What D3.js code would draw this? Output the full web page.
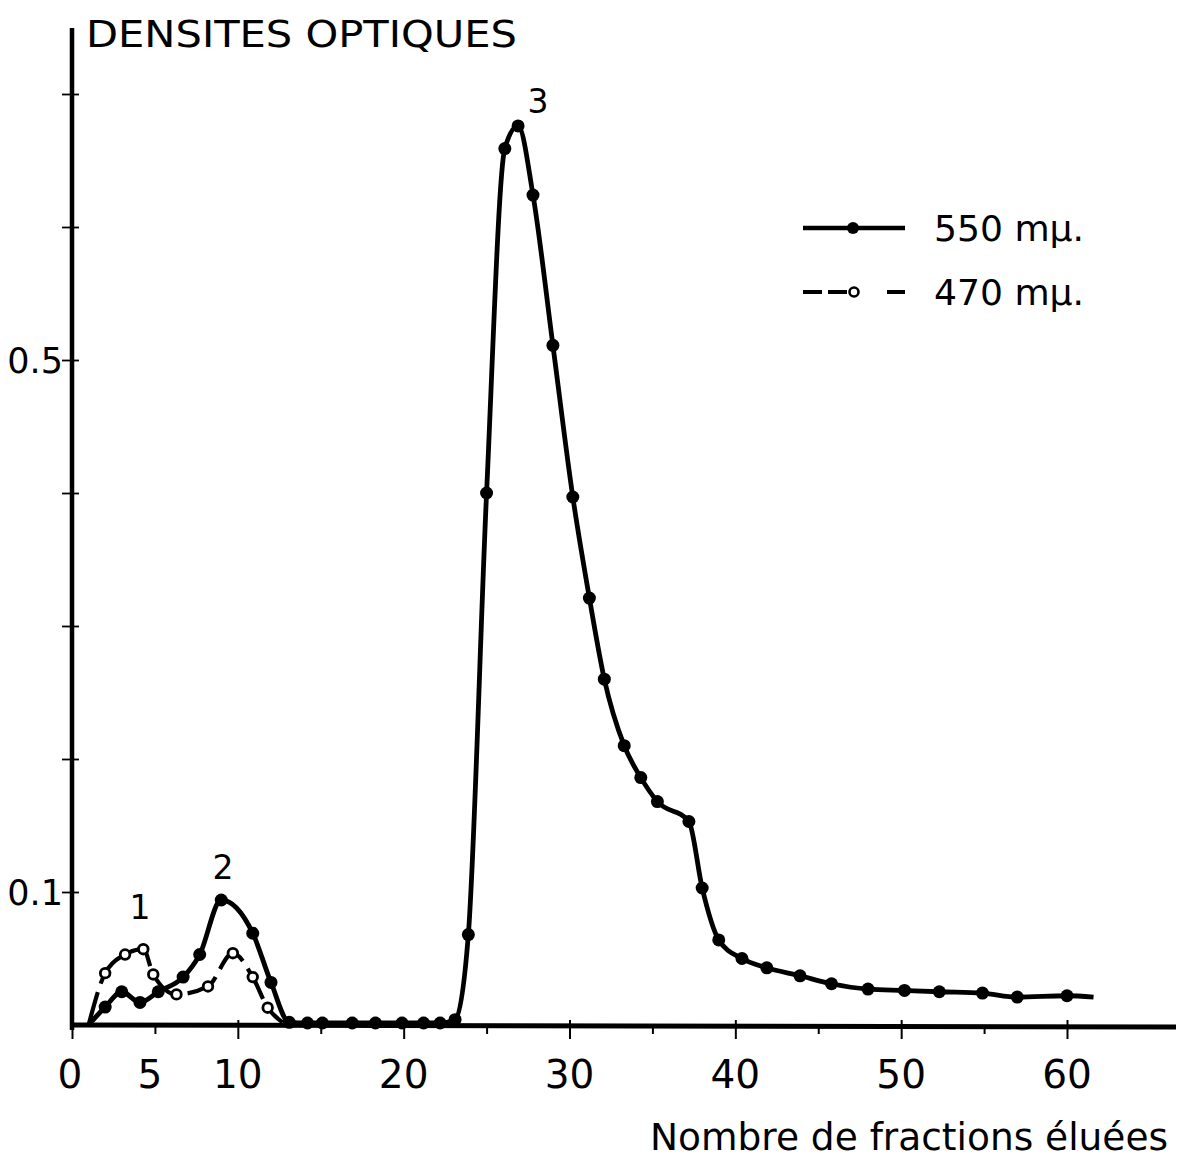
<!DOCTYPE html>
<html><head><meta charset="utf-8">
<script src="https://cdn.jsdelivr.net/npm/d3@7"></script>
<style>
html,body{margin:0;padding:0;background:#fff;}
text{font-family:"DejaVu Sans",sans-serif;fill:#000;}
</style></head>
<body>
<svg id="c" width="1184" height="1160"></svg>
<script>
// 550 mµ (solid, filled dots)
const x550 = [1, 2, 3, 4.1, 5.2, 6.7, 7.7, 9, 10.9, 12, 13.1, 14.2, 15.1, 16.9, 18.3, 19.9, 21.2, 22.2, 23.1,
  23.9, 25.0, 26.1, 26.9, 27.8, 29.0, 30.2, 31.2, 32.1, 33.3, 34.3, 35.3, 37.2, 38.0, 39.0, 40.4, 41.9,
  43.9, 45.8, 48.0, 50.2, 52.3, 54.9, 57.0, 60.0, 61.6];
const y550 = [0, 0.0135, 0.025, 0.017, 0.025, 0.036, 0.053, 0.094, 0.069, 0.032, 0.002, 0.0015, 0.0015, 0.0015, 0.0015, 0.0015, 0.0015, 0.0015, 0.004,
  0.068, 0.40, 0.659, 0.676, 0.624, 0.511, 0.397, 0.321, 0.260, 0.210, 0.186, 0.168, 0.153, 0.103, 0.064, 0.050, 0.043,
  0.037, 0.031, 0.027, 0.026, 0.025, 0.024, 0.021, 0.022, 0.021];
// 470 mµ (dashed, open circles)
const x470 = [1, 2.0, 3.2, 4.3, 4.9, 6.3, 8.2, 9.7, 10.9, 11.8, 12.7];
const y470 = [0, 0.039, 0.053, 0.057, 0.038, 0.023, 0.029, 0.054, 0.036, 0.013, 0.002];

const yTicks = [0.1, 0.2, 0.3, 0.4, 0.5, 0.6, 0.7];
const yLabels = {0.1: "0.1", 0.5: "0.5"};
const xMajor = [0, 10, 20, 30, 40, 50, 60];
const xMinor = [5, 15, 25, 35, 45, 55];
const xLabels = [0, 5, 10, 20, 30, 40, 50, 60];
const peaks = [{t: "1", x: 4.1, y: 0.080}, {t: "2", x: 9.1, y: 0.110}, {t: "3", x: 28.1, y: 0.686}];
const series = [{name: "550 mµ.", dashed: false}, {name: "470 mµ.", dashed: true}];

const svg = d3.select("#c");
const x = d3.scaleLinear().domain([0, 60]).range([72, 1067]);
const y = d3.scaleLinear().domain([0, 0.7]).range([1025, 94]);

// axes lines
svg.append("line").attr("x1", 72).attr("x2", 72).attr("y1", 28).attr("y2", 1030)
  .attr("stroke", "#000").attr("stroke-width", 4.5);
svg.append("line").attr("x1", 70).attr("x2", 1176).attr("y1", 1025).attr("y2", 1027)
  .attr("stroke", "#000").attr("stroke-width", 5);

// y axis via d3
const yAxis = d3.axisLeft(y).tickValues(yTicks).tickSize(10).tickPadding(6)
  .tickFormat(d => yLabels[d] || "");
const gy = svg.append("g").attr("transform", "translate(72,0)").call(yAxis);
gy.select(".domain").remove();
gy.selectAll(".tick line").attr("x1", 7).attr("x2", -10).attr("stroke", "#000").attr("stroke-width", 1.8);
gy.selectAll(".tick text").attr("font-size", 35).attr("x", -9).attr("dy", "0.36em")
  .style("font-family", "DejaVu Sans");

// x axis via d3 (major)
const xAxis = d3.axisBottom(x).tickValues(xMajor).tickSize(14).tickFormat("");
const gx = svg.append("g").attr("transform", "translate(0,1025)").call(xAxis);
gx.select(".domain").remove();
gx.selectAll(".tick line").attr("y1", -5).attr("stroke", "#000").attr("stroke-width", 2);
const xAxisMinor = d3.axisBottom(x).tickValues(xMinor).tickSize(9).tickFormat("");
const gx2 = svg.append("g").attr("transform", "translate(0,1025)").call(xAxisMinor);
gx2.select(".domain").remove();
gx2.selectAll(".tick line").attr("stroke", "#000").attr("stroke-width", 2);

svg.append("g").selectAll("text").data(xLabels).join("text")
  .attr("x", d => x(d) - (d === 5 ? 5 : 0) - (d === 0 ? 2 : 0)).attr("y", 1088)
  .attr("text-anchor", "middle").attr("font-size", 39).text(d => d);

// titles
svg.append("text").attr("x", 86).attr("y", 47).attr("font-size", 37)
  .attr("textLength", 431).attr("lengthAdjust", "spacingAndGlyphs").text("DENSITES  OPTIQUES");
svg.append("text").attr("x", 650).attr("y", 1150).attr("font-size", 37)
  .attr("textLength", 518).attr("lengthAdjust", "spacingAndGlyphs").text("Nombre de  fractions éluées");

// lines
const line = d3.line().x(d => x(d[0])).y(d => y(d[1])).curve(d3.curveMonotoneX);
const d550 = x550.map((v, i) => [v, y550[i]]);
const d470 = x470.map((v, i) => [v, y470[i]]);

svg.append("path").attr("d", line(d470)).attr("fill", "none").attr("stroke", "#000")
  .attr("stroke-width", 4.2).attr("stroke-dasharray", "34,9");
svg.append("path").attr("d", line(d550)).attr("fill", "none").attr("stroke", "#000")
  .attr("stroke-width", 4.8).attr("stroke-linejoin", "round");

svg.append("g").selectAll("circle").data(d550.slice(1, -1)).join("circle")
  .attr("cx", d => x(d[0])).attr("cy", d => y(d[1])).attr("r", 6.5).attr("fill", "#000");
svg.append("g").selectAll("circle").data(d470.slice(1, -1)).join("circle")
  .attr("cx", d => x(d[0])).attr("cy", d => y(d[1])).attr("r", 4.8)
  .attr("fill", "#fff").attr("stroke", "#000").attr("stroke-width", 2.8);

// peak labels
svg.append("g").selectAll("text").data(peaks).join("text")
  .attr("x", d => x(d.x)).attr("y", d => y(d.y))
  .attr("text-anchor", "middle").attr("font-size", 33).text(d => d.t);

// legend
const lg = svg.append("g");
series.forEach((s, i) => {
  const yy = 228 + i * 64;
  if (!s.dashed) {
    lg.append("line").attr("x1", 803).attr("x2", 905).attr("y1", yy).attr("y2", yy)
      .attr("stroke", "#000").attr("stroke-width", 4.5);
    lg.append("circle").attr("cx", 853).attr("cy", yy).attr("r", 6).attr("fill", "#000");
  } else {
    lg.append("line").attr("x1", 803).attr("x2", 905).attr("y1", yy).attr("y2", yy)
      .attr("stroke", "#000").attr("stroke-width", 4).attr("stroke-dasharray", "19,6,19,40,32");
    lg.append("circle").attr("cx", 854).attr("cy", yy).attr("r", 4.5).attr("fill", "#fff")
      .attr("stroke", "#000").attr("stroke-width", 2.6);
  }
  lg.append("text").attr("x", 934).attr("y", yy + 13).attr("font-size", 36)
    .attr("textLength", 150).attr("lengthAdjust", "spacingAndGlyphs").text(s.name);
});
</script>
</body></html>
